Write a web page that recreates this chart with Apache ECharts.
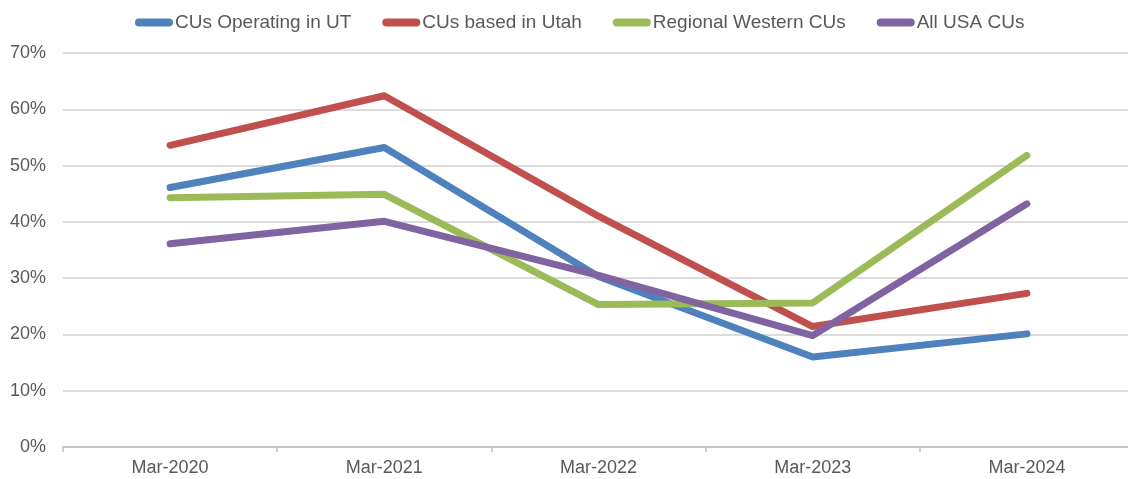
<!DOCTYPE html>
<html><head><meta charset="utf-8">
<script src="https://cdn.jsdelivr.net/npm/echarts@6/dist/echarts.min.js"></script>
<style>html,body{margin:0;padding:0;background:#fff;overflow:hidden;width:1128px;height:479px}#c{width:1134px;height:479px}</style>
</head><body><div id="c"></div>
<script>
const categories = ['Mar-2020','Mar-2021','Mar-2022','Mar-2023','Mar-2024'];
const seriesNames = ['CUs Operating in UT','CUs based in Utah','Regional Western CUs','All USA CUs'];
const cusOperatingInUT = [46.1, 53.2, 30.3, 16.0, 20.1];
const cusBasedInUtah = [53.6, 62.4, 41.0, 21.4, 27.3];
const regionalWesternCUs = [44.3, 44.9, 25.3, 25.6, 51.8];
const allUSACUs = [36.1, 40.1, 30.5, 19.8, 43.2];
const colors = ['#4f81bd','#c0504d','#9bbb59','#8064a2'];
const values = [cusOperatingInUT, cusBasedInUtah, regionalWesternCUs, allUSACUs];

const chart = echarts.init(document.getElementById('c'), null, {renderer:'canvas'});
const font = '"Liberation Sans", Arial, sans-serif';
chart.setOption({
  animation:false,
  color: colors,
  textStyle:{fontFamily:font},
  legend:{
    top:8, left:130,
    itemWidth:38, itemHeight:8, itemGap:31,
    icon:'path://M4,0 H34 A4,4 0 0 1 34,8 H4 A4,4 0 0 1 4,0 Z',
    textStyle:{fontSize:19,color:'#595959',fontFamily:font, padding:[0,0,0,-3]},
    data: seriesNames
  },
  grid:{left:63, right:0, top:53, height:394, containLabel:false},
  xAxis:{
    type:'category', data:categories, boundaryGap:true,
    axisLine:{lineStyle:{color:'#bfbfbf',width:1.5}},
    axisTick:{show:true,length:5,lineStyle:{color:'#bfbfbf',width:1.5}},
    axisLabel:{fontSize:18,color:'#595959',margin:12,fontFamily:font}
  },
  yAxis:{
    type:'value', min:0, max:70, interval:10,
    axisLine:{show:false}, axisTick:{show:false},
    axisLabel:{formatter:'{value}%',fontSize:18,color:'#595959',margin:17,fontFamily:font},
    splitLine:{lineStyle:{color:'#d0d0d0',width:1.5}}
  },
  series: seriesNames.map((n,i)=>({
    name:n, type:'line', data:values[i],
    symbol:'none', lineStyle:{width:7,color:colors[i],cap:'round',join:'round'},
    itemStyle:{color:colors[i]}
  }))
});
</script></body></html>
